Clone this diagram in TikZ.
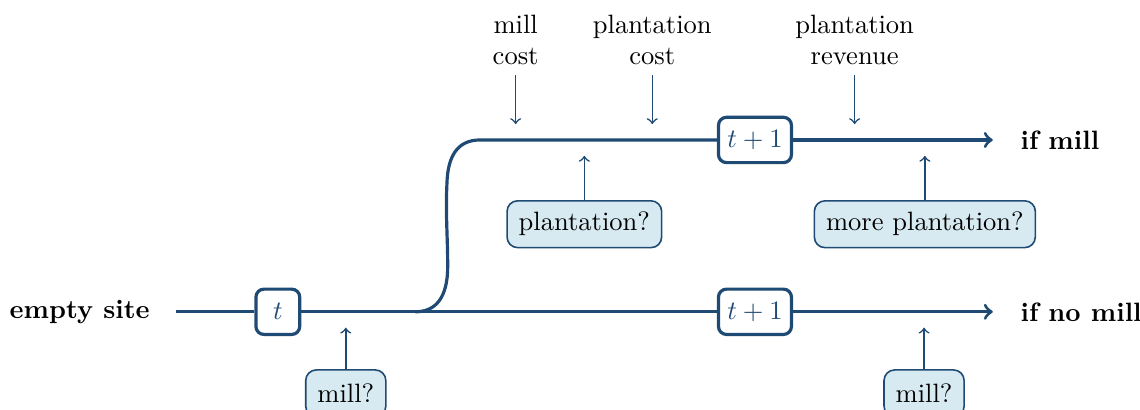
\documentclass[tikz,border=0pt]{standalone}
\usepackage{amsmath}
\usepackage{tikz}
\usetikzlibrary{calc,positioning}
\definecolor{darkblue}{RGB}{30,74,115}
\definecolor{lightblue}{RGB}{216,234,241}

\begin{document}
\begin{tikzpicture}[semithick,
    timebox/.style={draw=darkblue,very thick,fill=white,rounded corners=3pt,text=darkblue,minimum height=0.6cm,minimum width=0.58cm},
    askbox/.style={draw=darkblue,semithick,fill=lightblue,rounded corners=4pt,minimum height=0.62cm,inner xsep=4.4pt},
    flow/.style={darkblue,very thick},
    hint/.style={darkblue,semithick,->,shorten >=0.21cm}]
  \useasboundingbox (0,0) rectangle (15.1,5.43);
  % start and the two branches
  \node [anchor=east,font=\bfseries] (empty) at (2.11,1.3) {empty site};
  \coordinate (start) at (2.33,1.3);
  \coordinate (fork) at (5.5,1.3);
  \coordinate (top) at (6.36,3.576);
  \node [timebox] (t) at (3.68,1.3) {$t$};
  \node [timebox] (t1a) at (10.0,3.576) {$t+1$};
  \node [timebox] (t1b) at (10.0,1.3) {$t+1$};
  \node [anchor=west,font=\bfseries] (ifmill) at (13.39,3.576) {if mill};
  \node [anchor=west,font=\bfseries] (ifnomill) at (13.39,1.3) {if no mill};
  \coordinate (enda) at (13.15,3.576);
  \coordinate (endb) at (13.15,1.3);
  \draw[flow] (start) -- (t) -- (fork) -- (t1b);
  \draw[flow,->] (t1b) -- (endb);
  \draw[flow]
    (fork) .. controls (5.78,1.3) and (5.93,1.5) .. (5.93,1.9)
    .. controls (5.93,2.3) and (5.90,2.6) .. (5.92,3.0)
    .. controls (5.93,3.35) and (6.05,3.576) .. (top)
    -- (t1a)
  ;
  \draw[flow,->] (t1a) -- (enda);
  % cash flows
  \node [align=center] (millcost) at (6.83,4.9) {mill\\cost};
  \node [align=center] (plantcost) at (8.64,4.9) {plantation\\cost};
  \node [align=center] (plantrev) at (11.32,4.9) {plantation\\revenue};
  \draw[hint] (millcost) -- (millcost |- top);
  \draw[hint] (plantcost) -- (plantcost |- top);
  \draw[hint] (plantrev) -- (plantrev |- top);
  % decisions
  \node [askbox] (askmill) at (4.58,0.22) {mill?};
  \node [askbox] (askplant) at (7.74,2.46) {plantation?};
  \node [askbox] (askmore) at (12.25,2.46) {more plantation?};
  \node [askbox] (askmill2) at (12.24,0.22) {mill?};
  \draw[hint] (askmill) -- (askmill |- fork);
  \draw[hint] (askmill2) -- (askmill2 |- fork);
  \draw[hint] (askplant) -- (askplant |- top);
  \draw[hint] (askmore) -- (askmore |- top);
\end{tikzpicture}
\end{document}
